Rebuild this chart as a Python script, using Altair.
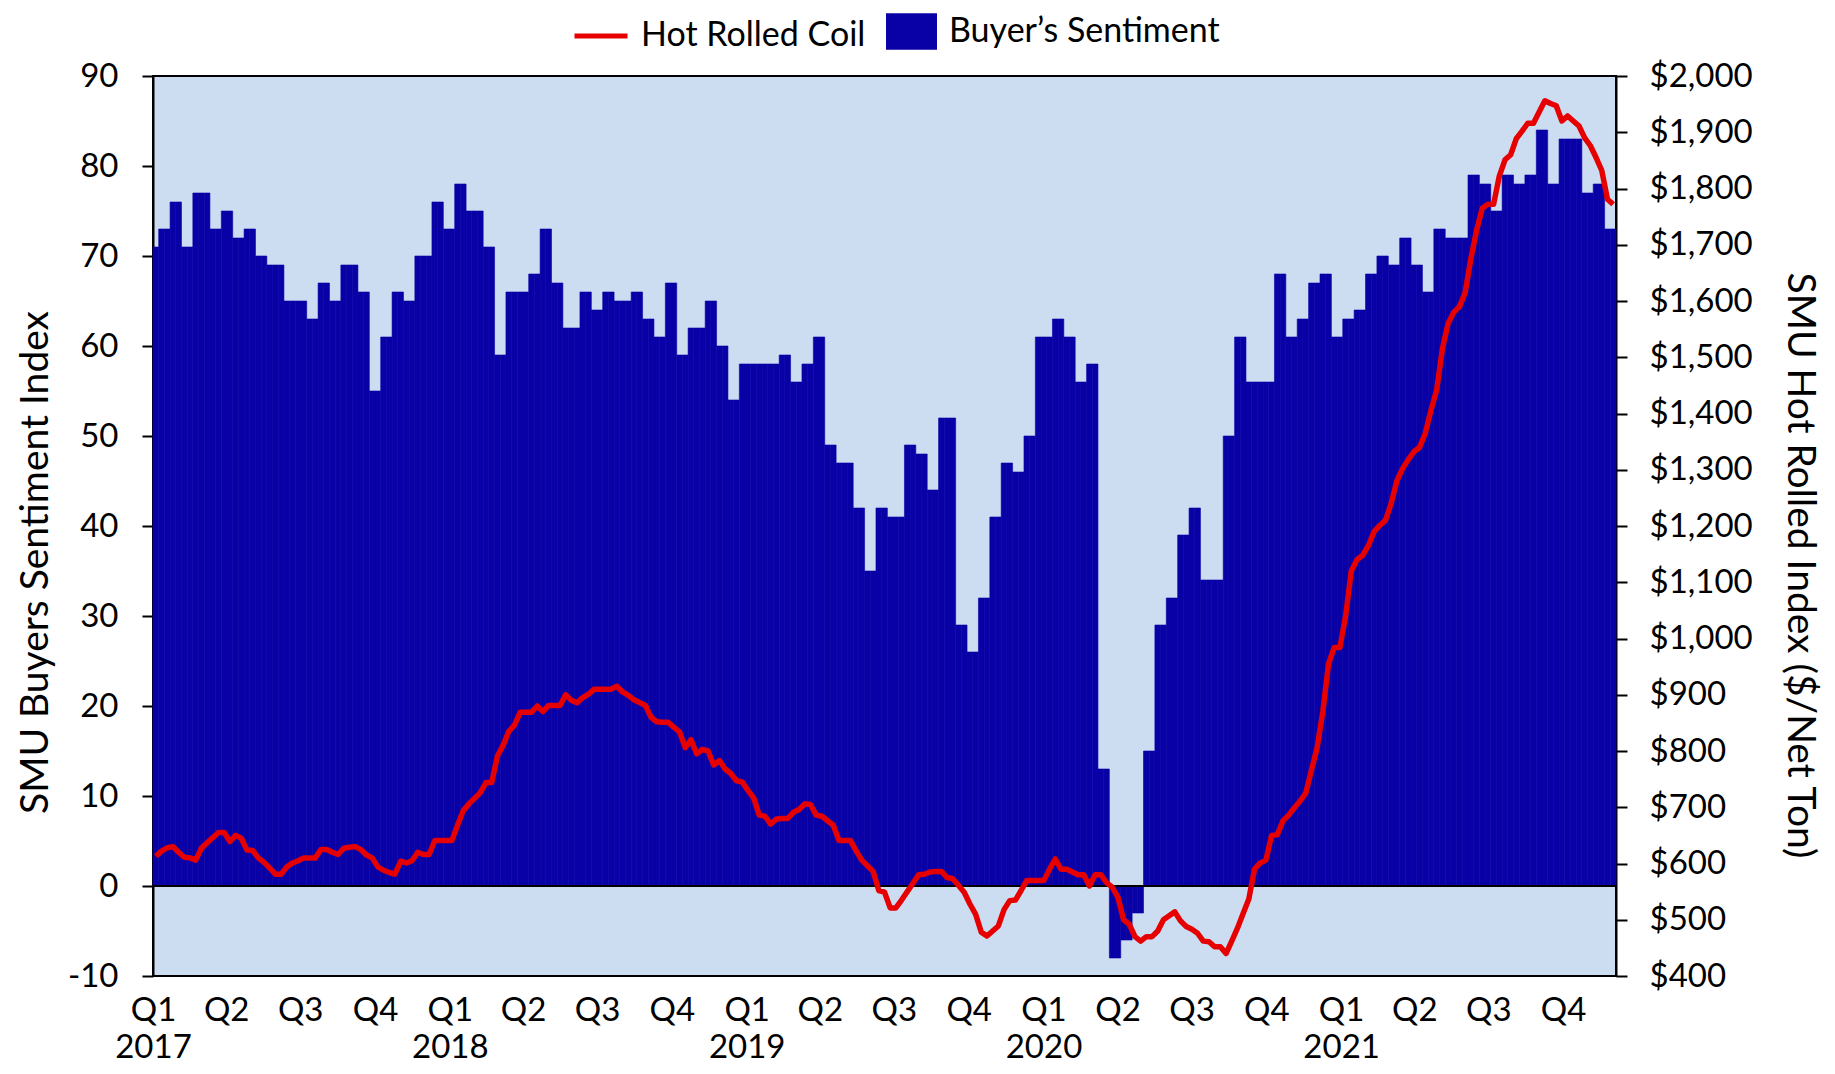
import altair as alt
import numpy as np
import pandas as pd

# ---------------- data ----------------
START = "2017-01-01"          # first weekly observation
N_WEEKS = 257

# SMU Buyers Sentiment Index readings and how many weeks each one spans
SENT_VALUES = [71, 73, 76, 71, 77, 73, 75, 72, 73, 70,
               69, 65, 63, 67, 65, 69, 66, 55, 61, 66,
               65, 70, 76, 73, 78, 75, 71, 59, 66, 68,
               73, 67, 62, 66, 64, 66, 65, 66, 63, 61,
               67, 59, 62, 65, 60, 54, 58, 59, 56, 58,
               61, 49, 47, 42, 35, 42, 41, 49, 48, 44,
               52, 29, 26, 32, 41, 47, 46, 50, 61, 63,
               61, 56, 58, 13, -8, -6, -3, 15, 29, 32,
               39, 42, 34, 50, 61, 56, 68, 61, 63, 67,
               68, 61, 63, 64, 68, 70, 69, 72, 69, 66,
               73, 72, 79, 78, 75, 79, 78, 79, 84, 78,
               83, 77, 78, 73]
SENT_WEEKS = [1, 2, 2, 2, 3, 2, 2, 2, 2, 2,
              3, 4, 2, 2, 2, 3, 2, 2, 2, 2,
              2, 3, 2, 2, 2, 3, 2, 2, 4, 2,
              2, 2, 3, 2, 2, 2, 3, 2, 2, 2,
              2, 2, 3, 2, 2, 2, 7, 2, 2, 2,
              2, 2, 3, 2, 2, 2, 3, 2, 2, 2,
              3, 2, 2, 2, 2, 2, 2, 2, 3, 2,
              2, 2, 2, 2, 2, 2, 2, 2, 2, 2,
              2, 2, 4, 2, 2, 5, 2, 2, 2, 2,
              2, 2, 2, 2, 2, 2, 2, 2, 2, 2,
              2, 4, 2, 2, 2, 2, 2, 2, 2, 2,
              4, 2, 2, 2]

# SMU Hot Rolled Coil index, $/net ton, weekly
HRC_PRICE = [613, 622, 628, 630, 620, 611, 610, 606, 627, 637,
             646, 655, 655, 639, 650, 645, 624, 623, 610, 602,
             592, 581, 581, 594, 601, 605, 610, 610, 610, 625,
             625, 620, 616, 627, 629, 630, 625, 615, 610, 594,
             588, 584, 581, 604, 601, 605, 620, 616, 616, 641,
             641, 641, 641, 668, 694, 706, 716, 726, 744, 744,
             791, 810, 835, 846, 869, 869, 869, 880, 870, 881,
             881, 881, 900, 890, 886, 895, 901, 910, 910, 910,
             910, 915, 905, 899, 891, 886, 881, 860, 852, 851,
             851, 842, 834, 806, 820, 795, 803, 800, 775, 783,
             768, 760, 747, 745, 730, 717, 686, 684, 670, 679,
             680, 680, 691, 696, 706, 705, 686, 684, 676, 668,
             641, 641, 641, 623, 606, 596, 586, 552, 549, 521,
             521, 535, 550, 565, 580, 581, 585, 586, 586, 575,
             573, 561, 549, 528, 510, 478, 471, 480, 489, 518,
             534, 535, 552, 570, 570, 570, 570, 590, 608, 590,
             590, 585, 580, 580, 560, 580, 580, 566, 558, 540,
             500, 492, 470, 462, 470, 470, 480, 500, 507, 514,
             498, 488, 483, 476, 462, 461, 452, 452, 440, 462,
             485, 511, 537, 590, 601, 606, 650, 651, 676, 686,
             699, 711, 725, 766, 806, 870, 955, 984, 984, 1040,
             1120, 1140, 1148, 1165, 1190, 1201, 1210, 1240, 1280, 1302,
             1318, 1332, 1340, 1365, 1406, 1442, 1515, 1560, 1580, 1590,
             1615, 1675, 1725, 1765, 1772, 1772, 1822, 1851, 1860, 1889,
             1902, 1916, 1916, 1936, 1956, 1951, 1947, 1920, 1929, 1920,
             1911, 1890, 1876, 1855, 1832, 1781, 1772]

SENT_NAME = "Buyer\u2019s Sentiment"
HRC_NAME = "Hot Rolled Coil"

LEFT_TICKS = list(range(-10, 91, 10))
RIGHT_TICKS = list(range(400, 2001, 100))

# ---------------- styles ----------------
BLUE = "#0900A6"
RED = "#E60000"
PLOT_BG = "#CCDDF2"
FONT = "Lato"
TICK_FS = 33
TITLE_FS = 39
LEGEND_FS = 34

# ---------------- frames ----------------
weeks = pd.date_range(START, periods=N_WEEKS, freq="7D")
fmt = "%Y-%m-%dT%H:%M:%S"
bars = pd.DataFrame({
    "date": weeks.strftime(fmt),
    "date_end": (weeks + pd.Timedelta(days=7)).strftime(fmt),
    "value": np.repeat(SENT_VALUES, SENT_WEEKS),
    "series": SENT_NAME,
})
line = pd.DataFrame({
    "date": (weeks + pd.Timedelta(hours=84)).strftime(fmt),
    "price": HRC_PRICE,
    "series": HRC_NAME,
})


def dt(ts):
    return alt.DateTime(year=int(ts.year), month=int(ts.month), date=int(ts.day))


x_start = weeks[0]
x_end = weeks[-1] + pd.Timedelta(days=7)
quarters = pd.date_range(x_start, x_end, freq="QS")

x_scale = alt.Scale(domain=[dt(x_start), dt(x_end)])
x_axis = alt.Axis(
    values=[dt(q) for q in quarters],
    labelExpr="floor(month(datum.value)/3) == 0 ? ['Q1', '' + year(datum.value)] : 'Q' + (floor(month(datum.value)/3) + 1)",
    title=None, ticks=False, domain=False, grid=False,
    labelFont=FONT, labelFontSize=TICK_FS, labelColor="black",
    labelPadding=18, labelLineHeight=37, labelFlush=False, labelOverlap=False,
    labelAlign="center", labelBaseline="top",
)

left_axis = alt.Axis(
    values=LEFT_TICKS, labelExpr="toString(datum.value)",
    title="SMU Buyers Sentiment Index", titleFont=FONT, titleFontSize=TITLE_FS,
    titleFontWeight="normal", titleColor="black", titleAngle=-90,
    titleX=-118, titleY=486, titleAlign="center", titleBaseline="middle",
    labelFont=FONT, labelFontSize=TICK_FS, labelColor="black", labelPadding=24,
    tickSize=11, tickWidth=2, tickColor="black",
    domainColor="black", domainWidth=2, grid=False,
)

right_axis = alt.Axis(
    orient="right", values=RIGHT_TICKS, format="$,.0f",
    title="SMU Hot Rolled Index ($/Net Ton)", titleFont=FONT, titleFontSize=TITLE_FS,
    titleFontWeight="normal", titleColor="black", titleAngle=90,
    titleX=183, titleY=489, titleAlign="center", titleBaseline="middle",
    labelFont=FONT, labelFontSize=TICK_FS, labelColor="black", labelPadding=22,
    tickSize=11, tickWidth=2, tickColor="black",
    domainColor="black", domainWidth=2, grid=False,
)

bar_layer = alt.Chart(bars).mark_rect(stroke=BLUE, strokeWidth=0.6).encode(
    x=alt.X("date:T", scale=x_scale, axis=x_axis),
    x2="date_end:T",
    y=alt.Y("value:Q", scale=alt.Scale(domain=[-10, 90], nice=False, zero=False), axis=left_axis),
    y2=alt.datum(0),
    fill=alt.Fill("series:N",
                  scale=alt.Scale(domain=[SENT_NAME], range=[BLUE]),
                  legend=alt.Legend(orient="none", legendX=733, legendY=-70, title=None,
                                    symbolType="M-1,-0.72L1,-0.72L1,0.72L-1,0.72Z",
                                    symbolSize=2601, symbolStrokeWidth=0,
                                    labelFont=FONT, labelFontSize=LEGEND_FS,
                                    labelColor="black", labelOffset=12, labelLimit=600,
                                    padding=0)),
)

zero_rule = alt.Chart(bars).mark_rule(color="black", strokeWidth=2).encode(
    y=alt.datum(0)
)

left = alt.layer(bar_layer, zero_rule)

line_layer = alt.Chart(line).mark_line(strokeWidth=5.5, strokeJoin="round").encode(
    x=alt.X("date:T", scale=x_scale, axis=x_axis),
    y=alt.Y("price:Q", scale=alt.Scale(domain=[400, 2000], nice=False, zero=False), axis=right_axis),
    stroke=alt.Stroke("series:N",
                      scale=alt.Scale(domain=[HRC_NAME], range=[RED]),
                      legend=alt.Legend(orient="none", legendX=419, legendY=-69, title=None,
                                        symbolType="stroke", symbolSize=2809,
                                        symbolStrokeWidth=5,
                                        labelFont=FONT, labelFontSize=LEGEND_FS,
                                        labelColor="black", labelOffset=11, labelLimit=600,
                                        padding=0)),
)

chart = alt.layer(left, line_layer).resolve_scale(y="independent").properties(
    width=1463, height=900,
    padding={"left": 145, "top": 68, "right": 211, "bottom": 90},
    autosize=alt.AutoSizeParams(type="none"),
    background="white",
).configure_view(fill=PLOT_BG, stroke="black", strokeWidth=2)

chart.save("out.html", embed_options={"renderer": "svg", "actions": False})
